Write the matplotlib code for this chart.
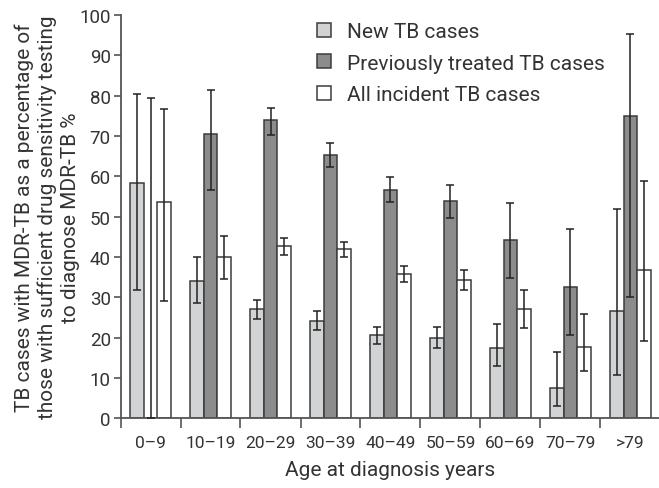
import matplotlib
matplotlib.use("Agg")
import matplotlib.pyplot as plt
import numpy as np
from matplotlib.patches import Patch

plt.rcParams['font.family'] = ['Roboto', 'DejaVu Sans']

categories = ["0–9", "10–19", "20–29", "30–39", "40–49", "50–59", "60–69", "70–79", ">79"]

new_cases = [58.3, 34.0, 27.0, 24.2, 20.6, 19.9, 17.5, 7.6, 26.6]
new_lo = [31.8, 28.5, 24.7, 21.9, 18.4, 17.4, 12.9, 3.1, 10.7]
new_hi = [80.5, 39.9, 29.4, 26.6, 22.7, 22.7, 23.4, 16.4, 51.9]

prev_cases = [0.0, 70.5, 73.9, 65.2, 56.7, 54.0, 44.1, 32.5, 74.9]
prev_lo = [0.0, 56.7, 70.3, 62.3, 53.6, 49.6, 34.9, 20.6, 30.0]
prev_hi = [79.3, 81.3, 77.0, 68.3, 59.9, 57.8, 53.3, 47.0, 95.4]

all_cases = [53.7, 39.9, 42.8, 42.0, 35.7, 34.2, 27.0, 17.8, 36.7]
all_lo = [29.0, 34.5, 40.4, 39.9, 33.8, 31.8, 22.3, 11.7, 19.1]
all_hi = [76.8, 45.2, 44.7, 43.7, 37.8, 36.7, 31.8, 25.8, 58.8]

series_labels = ["New TB cases", "Previously treated TB cases", "All incident TB cases"]
colors = ["#d1d3d4", "#8c8c8c", "#ffffff"]
edge = "#3c3c3c"
axis_col = "#555555"
text_col = "#333333"

fig = plt.figure(figsize=(6.59, 4.89), dpi=100)
ax = fig.add_axes([120.5/659, 1 - 419.3/489, 540/659, (419.3-16)/489])

x = np.arange(len(categories))
w = 0.225
series = [(new_cases, new_lo, new_hi), (prev_cases, prev_lo, prev_hi), (all_cases, all_lo, all_hi)]
for i, (vals, lo, hi) in enumerate(series):
    vals = np.array(vals); lo = np.array(lo); hi = np.array(hi)
    xs = x + (i - 1) * w
    ax.bar(xs, vals, width=w, color=colors[i], edgecolor=edge, linewidth=1.1, zorder=2)
    yerr = np.vstack([vals - lo, hi - vals])
    ax.errorbar(xs, vals, yerr=yerr, fmt='none', ecolor='#222222', elinewidth=1.1,
                capsize=2.8, capthick=1.1, zorder=3)

ax.set_xlim(-0.5, len(categories) - 0.5)
ax.set_ylim(0, 100)
ax.set_yticks(np.arange(0, 101, 10))
ax.set_xticks(x)
ax.set_xticklabels(categories)
ax.set_xticks(np.arange(-0.5, len(categories), 1), minor=True)
ax.tick_params(axis='x', which='major', length=0, pad=12, labelsize=12.5, colors=text_col)
ax.tick_params(axis='x', which='minor', length=7, width=1.2, color=axis_col, direction='out')
ax.tick_params(axis='y', length=5, width=1.2, color=axis_col, labelsize=13.5, labelcolor=text_col, pad=2)

for s in ['top', 'right']:
    ax.spines[s].set_visible(False)
for s in ['left', 'bottom']:
    ax.spines[s].set_color(axis_col)
    ax.spines[s].set_linewidth(1.3)

ax.set_xlabel("Age at diagnosis years", fontsize=15, color=text_col, labelpad=7)
ax.set_ylabel("TB cases with MDR-TB as a percentage of\nthose with sufficient drug sensitivity testing\nto diagnose MDR-TB %",
              fontsize=15, color=text_col, linespacing=1.25)
ax.yaxis.set_label_coords((80 - 120.5) / 540, 0.5)

handles = [Patch(facecolor=colors[i], edgecolor=edge, linewidth=1.1) for i in range(3)]
leg = fig.legend(handles, series_labels, loc='upper left', bbox_to_anchor=(317/659, 1 - 23/489),
                 frameon=False, fontsize=15, handlelength=0.67, handleheight=0.67,
                 handletextpad=0.77, labelspacing=0.6, borderaxespad=0, borderpad=0)
for t in leg.get_texts():
    t.set_color(text_col)

fig.savefig("out.png", dpi=100)
